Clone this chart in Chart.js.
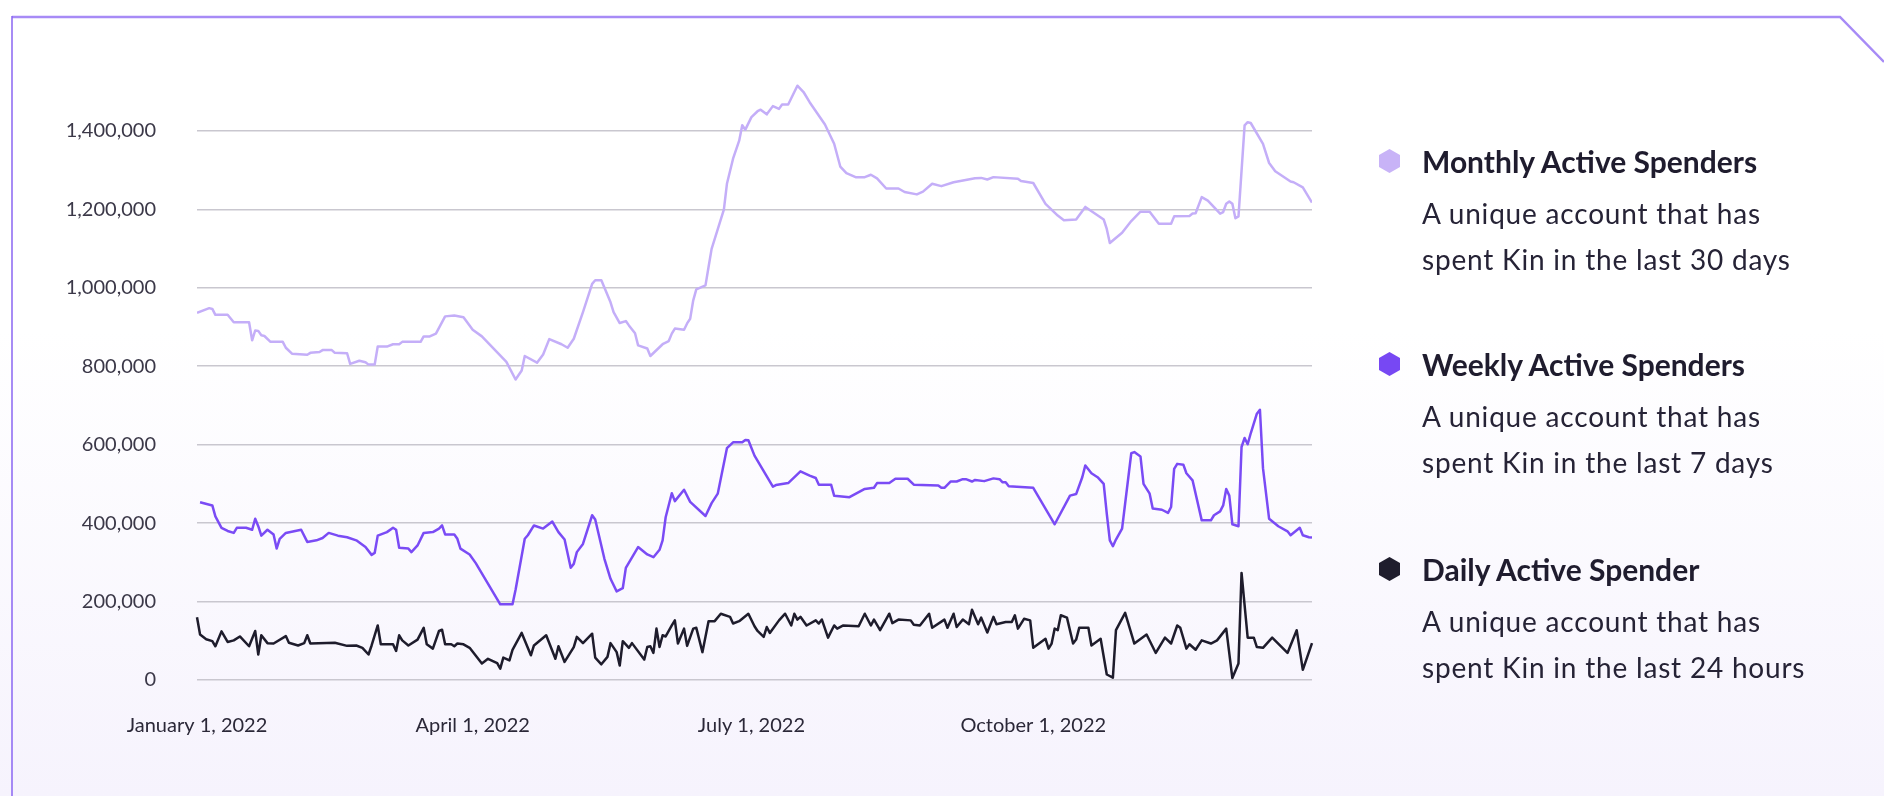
<!DOCTYPE html>
<html>
<head>
<meta charset="utf-8">
<script src="https://cdn.jsdelivr.net/npm/chart.js@4.4.0/dist/chart.umd.min.js"></script>
<style>
    html, body { margin: 0; padding: 0; }
    body {
        width: 1884px; height: 796px; overflow: hidden; position: relative;
        background: linear-gradient(to bottom, #ffffff 0px, #ffffff 330px, #f6f3fd 796px);
        font-family: 'Lato', sans-serif;
        color: #1f1c2e;
    }
    #moldura, #grafico { position: absolute; left: 0; top: 0; }
    .item { position: absolute; left: 1379px; }
    .hex {
        position: absolute; left: 0; width: 21px; height: 24px;
        clip-path: polygon(50% 0, 100% 25%, 100% 75%, 50% 100%, 0 75%, 0 25%);
    }
    .titulo { position: absolute; left: 43px; white-space: nowrap; font-weight: 700; font-size: 30px; line-height: 40px; }
    .descricao { position: absolute; left: 43px; white-space: nowrap; font-weight: 400; font-size: 28px; letter-spacing: 0.8px; line-height: 46px; color: #262336; }
</style>
</head>
<body>
<svg id="moldura" width="1884" height="796">
    <polyline points="12,17 1840,17 1884,62" fill="none" stroke="#a78bf6" stroke-width="2.5"/>
    <line x1="12" y1="16" x2="12" y2="796" stroke="#8a66f2" stroke-width="1.5"/>
</svg>
<canvas id="grafico" width="1884" height="796"></canvas>

<div class="item" style="top:161px">
    <div class="hex" style="top:-12px; background:#c8b3f7"></div>
    <div class="titulo" style="top:-20px">Monthly Active Spenders</div>
    <div class="descricao" style="top:29px">A unique account that has<br>spent Kin in the last 30 days</div>
</div>
<div class="item" style="top:364px">
    <div class="hex" style="top:-12px; background:#7748f3"></div>
    <div class="titulo" style="top:-20px">Weekly Active Spenders</div>
    <div class="descricao" style="top:29px">A unique account that has<br>spent Kin in the last 7 days</div>
</div>
<div class="item" style="top:569px">
    <div class="hex" style="top:-12px; background:#1f1d2d"></div>
    <div class="titulo" style="top:-20px">Daily Active Spender</div>
    <div class="descricao" style="top:29px">A unique account that has<br>spent Kin in the last 24 hours</div>
</div>

<script>
// dias contados a partir de 1 de janeiro de 2022, valores em milhares
const dias_mensal = [0,4,5,6,10,12,17,18,19,20,21,22,24,28,29,31,36,37,40,41,44,45,49,50,53,55,56,58,59,62,64,66,67,73,74,76,78,81,84,87,90,93,101,104,106,107,111,113,115,119,121,123,126,129,130,132,135,136,138,140,141,143,144,147,148,152,154,155,156,159,160,161,162,163,166,167,168,172,173,175,177,178,179,181,183,184,186,188,190,191,193,196,198,200,205,208,210,212,215,218,220,222,225,229,231,235,237,240,243,247,254,256,258,260,268,269,273,277,281,283,287,290,296,297,298,302,305,308,311,314,318,319,324,325,326,328,330,334,335,336,337,338,339,340,342,343,344,348,350,352,357,358,361,364];
const valores_mensal = [936,948,946,931,931,912,912,866,891,890,879,877,862,862,847,832,829,834,836,841,841,834,833,806,814,810,804,804,850,850,856,856,862,862,876,876,883,927,929,925,893,876,811,766,789,826,809,830,869,856,847,870,938,1010,1019,1019,963,938,910,915,904,884,853,845,826,856,864,883,896,893,909,921,968,996,1006,1053,1099,1199,1265,1329,1375,1414,1403,1435,1450,1454,1442,1463,1456,1467,1467,1515,1499,1473,1416,1367,1309,1292,1282,1282,1288,1279,1253,1253,1244,1238,1245,1265,1259,1269,1279,1280,1276,1282,1278,1272,1267,1214,1184,1172,1174,1206,1174,1150,1114,1140,1170,1194,1194,1163,1163,1182,1183,1189,1190,1231,1222,1189,1193,1214,1220,1214,1177,1182,1414,1422,1420,1367,1318,1297,1271,1269,1256,1217];

const dias_semanal = [1,5,6,8,10,12,13,16,18,19,20,21,23,25,26,27,29,34,36,39,41,43,46,49,52,55,57,58,59,62,64,65,66,69,70,72,74,77,79,80,81,84,85,86,89,91,99,103,104,107,108,110,113,116,118,120,122,123,124,126,129,130,133,135,137,139,140,144,147,149,151,152,153,155,156,159,161,166,168,170,173,175,178,179,180,182,188,189,193,197,200,202,203,207,208,213,218,221,222,226,228,232,234,242,243,244,246,248,250,251,253,254,257,260,262,263,264,265,273,280,285,287,289,290,292,294,296,297,298,299,300,302,303,305,306,308,309,311,312,315,317,318,319,320,322,323,325,328,331,332,334,335,336,337,338,340,341,342,343,344,346,347,348,350,353,356,357,360,361,363,364];
const valores_semanal = [453,445,417,388,380,375,388,388,383,411,392,368,383,371,335,360,375,383,352,356,362,375,368,364,356,339,319,324,368,377,388,383,337,335,326,343,375,377,386,394,371,371,360,335,320,298,193,193,230,360,369,394,386,404,377,358,286,296,326,347,420,409,309,258,226,234,286,339,320,313,332,356,415,476,456,485,454,418,451,475,591,606,606,612,611,572,493,497,502,532,521,515,498,498,470,466,487,490,502,502,513,513,498,496,490,490,506,506,512,512,506,510,507,514,512,504,504,494,490,397,470,474,517,547,527,517,500,424,356,341,358,386,450,578,581,570,500,475,437,434,426,441,538,551,549,527,509,407,407,420,430,445,487,470,397,392,594,617,601,629,679,689,540,411,392,379,369,388,369,364,363];

const dias_diario = [0,1,3,5,6,8,10,12,14,17,19,20,21,23,25,29,30,33,35,36,37,45,49,52,54,56,57,59,60,64,65,66,67,69,72,74,75,77,79,80,81,83,84,85,87,89,93,95,98,99,100,102,103,106,109,110,114,117,118,120,123,124,126,129,130,132,134,135,137,138,139,141,142,146,147,148,149,150,151,152,153,155,156,157,159,160,162,163,165,167,169,171,174,175,177,180,182,183,185,186,187,190,192,194,195,196,197,199,202,203,204,206,208,209,211,216,218,220,221,223,226,227,229,233,234,236,239,240,244,245,247,248,250,252,253,255,256,258,260,261,264,266,267,268,270,272,273,277,278,279,280,281,282,284,286,287,288,291,292,295,297,299,300,303,306,310,313,316,318,320,321,323,324,326,328,331,333,336,338,340,341,343,345,346,348,351,356,359,361,364,365];
const valores_diario = [160,116,104,99,86,124,97,101,111,86,125,65,114,94,93,112,95,88,94,114,93,95,87,88,82,65,88,139,91,91,74,114,101,88,103,133,91,80,125,128,91,91,86,93,91,82,42,54,43,29,57,50,77,120,63,88,114,54,86,46,84,110,94,118,57,40,59,94,71,37,99,82,94,52,84,86,69,131,84,114,111,139,152,93,131,87,131,133,71,150,150,169,161,144,150,169,137,125,110,135,120,152,169,139,169,154,161,139,152,144,154,108,139,131,139,137,169,139,154,127,169,145,154,152,141,139,169,133,154,133,169,135,154,142,179,142,159,121,161,142,148,148,165,131,156,152,82,105,80,93,131,127,165,159,93,103,133,133,88,105,14,6,127,171,93,116,69,108,93,139,133,80,91,77,101,93,101,131,5,42,273,108,108,84,82,108,69,127,26,94,71];

const dias_ticks = [0, 90, 181, 273];
const labels_ticks = ['January 1, 2022', 'April 1, 2022', 'July 1, 2022', 'October 1, 2022'];
const ticks_y = [0, 200000, 400000, 600000, 800000, 1000000, 1200000, 1400000];

function montarPontos(dias, valores) {
    return dias.map((dia, i) => ({x: dia, y: valores[i] * 1000}));
}

Chart.defaults.font.family = 'Lato';

const ctx_grafico = document.getElementById('grafico');

new Chart(ctx_grafico, {
    type: 'line',
    data: {
        datasets: [{
            label: 'Monthly Active Spenders',
            data: montarPontos(dias_mensal, valores_mensal),
            borderColor: '#c4aef8',
            borderWidth: 2.5,
            pointRadius: 0
        }, {
            label: 'Weekly Active Spenders',
            data: montarPontos(dias_semanal, valores_semanal),
            borderColor: '#7a4bf5',
            borderWidth: 2.5,
            pointRadius: 0
        }, {
            label: 'Daily Active Spender',
            data: montarPontos(dias_diario, valores_diario),
            borderColor: '#1e1c2c',
            borderWidth: 2.5,
            pointRadius: 0,
            clip: false
        }]
    },
    options: {
        responsive: false,
        animation: false,
        layout: {
            padding: { top: 72, right: 572, left: 0, bottom: 0 }
        },
        elements: {
            line: { tension: 0, borderJoinStyle: 'round' }
        },
        plugins: {
            legend: { display: false },
            tooltip: { enabled: false }
        },
        scales: {
            x: {
                type: 'linear',
                min: 0,
                max: 364,
                grid: { display: false, drawTicks: false },
                border: { display: false },
                afterBuildTicks: eixo => { eixo.ticks = dias_ticks.map(v => ({value: v})); },
                afterFit: eixo => { eixo.height = 116; },
                ticks: {
                    autoSkip: false,
                    maxRotation: 0,
                    padding: 34,
                    color: '#2b2838',
                    font: { size: 20 },
                    callback: valor => labels_ticks[dias_ticks.indexOf(valor)]
                }
            },
            y: {
                min: 0,
                max: 1550000,
                border: { display: false },
                grid: { color: '#c9c7cf', lineWidth: 1.5, drawTicks: false },
                afterBuildTicks: eixo => { eixo.ticks = ticks_y.map(v => ({value: v})); },
                afterFit: eixo => { eixo.width = 197; },
                ticks: {
                    padding: 41,
                    color: '#3b3848',
                    font: { size: 20 },
                    callback: valor => valor.toLocaleString('en-US')
                }
            }
        }
    }
});
</script>
</body>
</html>
